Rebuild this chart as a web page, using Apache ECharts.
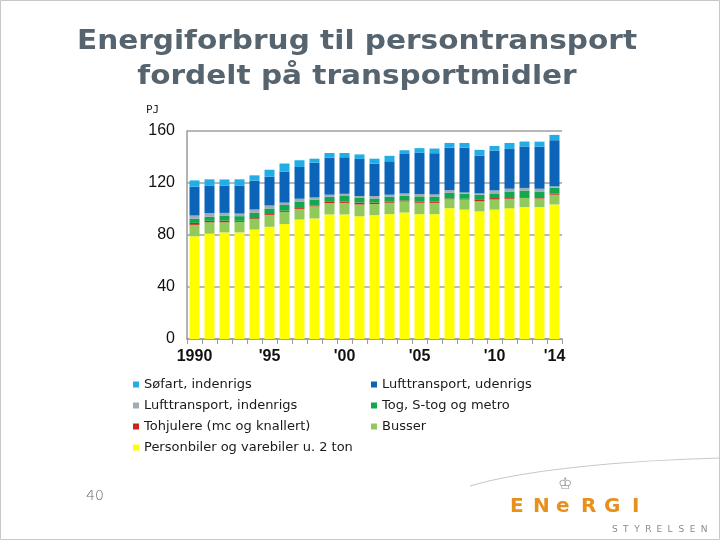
<!DOCTYPE html>
<html>
<head>
<meta charset="utf-8">
<script src="https://cdn.jsdelivr.net/npm/echarts@6/dist/echarts.min.js"></script>
<style>
html,body{margin:0;padding:0;background:#fff;}
#c{width:720px;height:540px;}
</style>
</head>
<body>
<div id="c"></div>
<script>
// ---- Data (PJ) ----
var years = ['1990','1991','1992','1993','1994','1995','1996','1997','1998','1999','2000','2001','2002','2003','2004','2005','2006','2007','2008','2009','2010','2011','2012','2013','2014'];
var xTickYears = ['1990','1995','2000','2005','2010','2014'];
var xTickLabels = ['1990',"'95","'00","'05","'10","'14"];

var personbiler   = [79.0,81.0,82.0,82.0,84.2,86.3,88.4,91.9,92.7,95.8,95.8,94.4,95.3,96.0,97.3,96.0,96.0,100.6,99.5,98.2,99.5,100.5,101.5,101.4,103.5];
var busser        = [8.8,8.8,7.8,8.1,8.1,9.2,9.4,8.2,9.3,8.7,8.9,9.1,8.5,8.8,8.5,8.8,8.7,6.9,7.8,7.7,7.8,7.4,7.1,6.7,7.5];
var tohjulere     = [1.5,1.1,1.3,0.8,0.6,1.3,0.9,1.3,0.7,1.0,1.1,1.5,1.2,1.0,0.8,0.8,1.1,0.6,0.6,1.1,1.1,1.2,0.6,1.0,1.0];
var tog           = [3.1,3.1,3.9,3.6,4.1,3.6,4.4,4.4,4.6,3.9,4.2,3.5,3.1,3.6,3.6,4.1,3.8,4.3,3.8,4.0,3.6,4.4,5.0,4.4,4.4];
var luftIndenrigs = [2.6,2.8,2.0,2.0,2.6,2.3,1.8,2.1,1.6,1.6,1.7,1.5,1.9,1.6,1.8,1.8,1.6,2.1,1.0,1.0,2.3,2.1,2.0,2.1,1.0];
var luftUdenrigs  = [22.1,21.3,21.0,21.6,22.2,22.1,23.9,24.4,26.7,28.5,28.1,28.5,24.8,25.7,30.3,31.7,31.7,32.7,34.5,28.9,30.6,30.6,31.9,32.4,35.5];
var soefart       = [4.9,4.7,4.7,4.7,4.1,5.4,6.2,5.2,3.1,3.6,3.3,3.5,3.9,4.2,2.9,3.6,3.6,3.6,3.6,4.6,3.6,4.6,3.8,3.8,4.1];

var names = {
  soefart: 'Søfart, indenrigs',
  luftU: 'Lufttransport, udenrigs',
  luftI: 'Lufttransport, indenrigs',
  tog: 'Tog, S-tog og metro',
  tohjul: 'Tohjulere (mc og knallert)',
  bus: 'Busser',
  bil: 'Personbiler og varebiler u. 2 ton'
};

var titleLines = 'Energiforbrug til persontransport\nfordelt på transportmidler';

var chart = echarts.init(document.getElementById('c'), null, {renderer:'canvas'});

function bar(name, data, color){
  return {name:name, type:'bar', stack:'t', data:data, barWidth:10,
    itemStyle:{color:color}, emphasis:{disabled:true}, animation:false};
}

var legendText = {fontFamily:'DejaVu Sans', fontSize:13, color:'#1a1a1a'};

// logo letters (decoration)
var logoGraphics = [];
var energi = ['E','N','e','R','G','I'];
var energiX = [510,533,556,581,604,632];
energi.forEach(function(ch,i){
  logoGraphics.push({type:'text', x:energiX[i], y:497, style:{text:ch, fontFamily:'DejaVu Sans', fontWeight:'bold', fontSize:20, fill:'#e8901e'}});
});
'STYRELSEN'.split('').forEach(function(ch,i){
  logoGraphics.push({type:'text', x:612+i*11.1, y:525, style:{text:ch, fontFamily:'DejaVu Sans', fontSize:9, fill:'#8a8a8a'}});
});

chart.setOption({
  animation:false,
  backgroundColor:'#ffffff',
  legend:[
    {left:128, top:373, orient:'vertical', itemWidth:6, itemHeight:6, itemGap:8, icon:'rect',
     textStyle:legendText, selectedMode:false,
     data:[names.soefart, names.luftI, names.tohjul, names.bil]},
    {left:366, top:373, orient:'vertical', itemWidth:6, itemHeight:6, itemGap:8, icon:'rect',
     textStyle:legendText, selectedMode:false,
     data:[names.luftU, names.tog, names.bus]}
  ],
  grid:{left:187, right:158, top:131, bottom:201, containLabel:false},
  xAxis:{
    type:'category', data:years,
    axisLine:{lineStyle:{color:'#9a9a9a', width:1.5}},
    axisTick:{show:true, interval:0, alignWithLabel:false, length:5, lineStyle:{color:'#9a9a9a'}},
    axisLabel:{interval:0, margin:10, fontFamily:'Liberation Sans', fontSize:16, fontWeight:'bold', color:'#111',
      formatter:function(v){var i=xTickYears.indexOf(v); return i>=0?xTickLabels[i]:'';}}
  },
  yAxis:{
    type:'value', min:0, max:160, interval:40,
    axisLine:{show:true, lineStyle:{color:'#9a9a9a', width:1.5}},
    axisTick:{show:false},
    splitLine:{lineStyle:{color:'#a0a0a0', width:1.5}},
    axisLabel:{margin:12, fontFamily:'Liberation Sans', fontSize:16, color:'#111'}
  },
  series:[
    bar(names.bil, personbiler, '#ffff00'),
    bar(names.bus, busser, '#92c95c'),
    bar(names.tohjul, tohjulere, '#c8281c'),
    bar(names.tog, tog, '#13a84e'),
    bar(names.luftI, luftIndenrigs, '#a3acb5'),
    bar(names.luftU, luftUdenrigs, '#0b64b8'),
    bar(names.soefart, soefart, '#22ade6')
  ],
  graphic:[
    {type:'rect', shape:{x:0.5,y:0.5,width:719,height:539}, style:{fill:null, stroke:'#c8c8c8', lineWidth:1}, silent:true, z:-10},
    {type:'text', x:357, y:24, scaleX:1.095, style:{text:titleLines, textAlign:'center', textVerticalAlign:'top', fontFamily:'DejaVu Sans', fontWeight:'bold', fontSize:27, lineHeight:35, fill:'#56646f'}},
    {type:'text', x:146, y:105, style:{text:'PJ', fontFamily:'DejaVu Sans Mono', fontSize:11, fill:'#222'}},
    {type:'text', x:86, y:489, style:{text:'40', fontFamily:'DejaVu Sans', fontSize:14, fontWeight:'lighter', fill:'#666'}},
    {type:'bezierCurve', shape:{x1:470, y1:486, x2:720, y2:458, cpx1:530, cpy1:468, cpx2:640, cpy2:460},
      style:{stroke:'#c8c8c8', lineWidth:1.2, fill:null}, silent:true},
    {type:'text', x:558, y:477, style:{text:'♔', fontSize:16, fill:'#999'}}
  ].concat(logoGraphics)
});
</script>
</body>
</html>
